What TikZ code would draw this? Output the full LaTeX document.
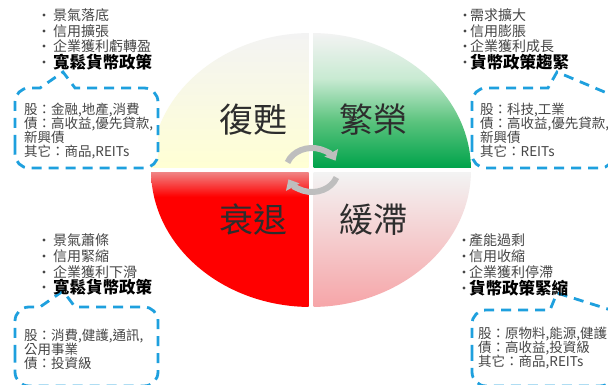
\documentclass[tikz,border=0pt]{standalone}
\usepackage{fontspec}
\setmainfont{Noto Sans CJK TC}
\usetikzlibrary{arrows.meta}
\definecolor{calloutblue}{RGB}{30,160,222}
\definecolor{bodygray}{RGB}{70,70,70}
\definecolor{labelgray}{RGB}{45,45,45}
\definecolor{arrowgray}{RGB}{190,190,190}
\definecolor{qgray}{RGB}{243,243,243}
\definecolor{yel}{RGB}{255,255,212}
\definecolor{grn}{RGB}{0,163,75}
\definecolor{grnmid}{RGB}{90,195,125}
\definecolor{grnlight}{RGB}{200,234,210}
\definecolor{redfull}{RGB}{255,0,0}
\definecolor{redtop}{RGB}{240,130,130}
\definecolor{pinkb}{RGB}{246,165,168}
\pgfdeclareverticalshading{greenshade}{100bp}{color(0bp)=(grn); color(25bp)=(grn); color(42bp)=(grnmid); color(58bp)=(grnlight); color(75bp)=(qgray); color(100bp)=(qgray)}
\pgfdeclareverticalshading{redshade}{100bp}{color(0bp)=(redfull); color(25bp)=(redfull); color(66bp)=(redfull); color(75bp)=(redtop); color(100bp)=(redtop)}
\begin{document}
\begin{tikzpicture}[x=1pt,y=1pt,
  callout/.style={draw=calloutblue, line width=2.8pt, dash pattern=on 10pt off 7pt, fill=white},
  bul/.style={anchor=west, inner sep=0pt, text=bodygray, font=\fontsize{14}{15}\selectfont},
  bulbold/.style={anchor=west, inner sep=0pt, text=black, font=\fontsize{16.5}{17}\selectfont\bfseries},
  info/.style={anchor=north west, inner sep=0pt, align=left, text=bodygray, font=\fontsize{13.5}{14.2}\selectfont},
  phase/.style={inner sep=0pt, text=labelgray, font=\fontsize{34}{36}\selectfont},
  dot/.style={circle, fill=bodygray, inner sep=0pt, minimum size=3.2pt},
  cyc/.style={line width=6pt, draw=arrowgray, -{Triangle[length=9pt,width=15pt]}}
]
\clip (0,0) rectangle (608,385);
\fill[white] (0,0) rectangle (608,385);

% quadrants
\begin{scope}
  \clip (311,215) ellipse [x radius=160, y radius=137];
  \path[top color=qgray, bottom color=yel] (151,217.5) rectangle (308.5,352);
  \shade[shading=greenshade] (313.5,217.5) rectangle (471,352);
  \shade[shading=redshade] (151,78) rectangle (308.5,212.5);
  \path[top color=qgray, bottom color=pinkb] (313.5,78) rectangle (471,212.5);
\end{scope}

\node[phase] (recovery) at (253,265) {復甦};
\node[phase] (boom) at (373,265) {繁榮};
\node[phase] (recession) at (253,165) {衰退};
\node[phase] (slowdown) at (373,165) {緩滯};

% cycle arrows
\coordinate (cyc) at (312,215);
\draw[cyc] (cyc) ++(160:26 and 22) arc[start angle=160, end angle=25, x radius=26, y radius=22];
\draw[cyc] (cyc) ++(-20:26 and 22) arc[start angle=-20, end angle=-155, x radius=26, y radius=22];

% callouts
\draw[callout] (15,240) -- (15,283) arc[start angle=180, end angle=90, radius=14] -- (40,297) -- (63,313) -- (75,297) -- (144,297) arc[start angle=90, end angle=0, radius=14] -- (158,231) arc[start angle=0, end angle=-90, radius=14] -- (29,217) arc[start angle=270, end angle=180, radius=14] -- cycle;
\draw[callout] (472,240) -- (472,283) arc[start angle=180, end angle=90, radius=14] -- (548,297) -- (557,313) -- (614,289) -- (614,231) arc[start angle=0, end angle=-90, radius=14] -- (486,217) arc[start angle=270, end angle=180, radius=14] -- cycle;
\draw[callout] (15,30) -- (15,64) arc[start angle=180, end angle=90, radius=14] -- (40,78) -- (63,94) -- (75,78) -- (144,78) arc[start angle=90, end angle=0, radius=14] -- (158,13) arc[start angle=0, end angle=-90, radius=14] -- (29,-1) arc[start angle=270, end angle=180, radius=14] -- cycle;
\draw[callout] (472,30) -- (472,61) arc[start angle=180, end angle=90, radius=14] -- (550,75) -- (557,92) -- (614,74) -- (614,13) arc[start angle=0, end angle=-90, radius=14] -- (486,-1) arc[start angle=270, end angle=180, radius=14] -- cycle;

\node[info] (tlinfo) at (24,282.5) {股：金融,地產,消費\\債：高收益,優先貸款,\\新興債\\其它：商品,REITs};
\node[info] (trinfo) at (480,282.5) {股：科技,工業\\債：高收益,優先貸款,\\新興債\\其它：REITs};
\node[info] (blinfo) at (24,56) {股：消費,健護,通訊,\\公用事業\\債：投資級};
\node[info] (brinfo) at (478,58) {股：原物料,能源,健護\\債：高收益,投資級\\其它：商品,REITs};

% bullet lists top-left
\node[dot] (tld1) at (44,370) {}; \node[bul] (tl1) at (53,370) {景氣落底};
\node[dot] (tld2) at (44,354) {}; \node[bul] (tl2) at (53,354) {信用擴張};
\node[dot] (tld3) at (44,339) {}; \node[bul] (tl3) at (53,339) {企業獲利虧轉盈};
\node[dot] (tld4) at (44,323) {}; \node[bulbold] (tl4) at (53,323) {寬鬆貨幣政策};
% top-right
\node[dot] (trd1) at (465,370) {}; \node[bul] (tr1) at (470,370) {需求擴大};
\node[dot] (trd2) at (465,354) {}; \node[bul] (tr2) at (470,354) {信用膨脹};
\node[dot] (trd3) at (465,339) {}; \node[bul] (tr3) at (470,339) {企業獲利成長};
\node[dot] (trd4) at (465,323) {}; \node[bulbold] (tr4) at (470,323) {貨幣政策趨緊};
% bottom-left
\node[dot] (bld1) at (44,145) {}; \node[bul] (bl1) at (53,145) {景氣蕭條};
\node[dot] (bld2) at (44,129) {}; \node[bul] (bl2) at (53,129) {信用緊縮};
\node[dot] (bld3) at (44,113) {}; \node[bul] (bl3) at (53,113) {企業獲利下滑};
\node[dot] (bld4) at (44,98) {}; \node[bulbold] (bl4) at (53,98) {寬鬆貨幣政策};
% bottom-right
\node[dot] (brd1) at (464,145) {}; \node[bul] (br1) at (469,145) {產能過剩};
\node[dot] (brd2) at (464,129) {}; \node[bul] (br2) at (469,129) {信用收縮};
\node[dot] (brd3) at (464,113) {}; \node[bul] (br3) at (469,113) {企業獲利停滯};
\node[dot] (brd4) at (464,97) {}; \node[bulbold] (br4) at (469,97) {貨幣政策緊縮};
\end{tikzpicture}
\end{document}
